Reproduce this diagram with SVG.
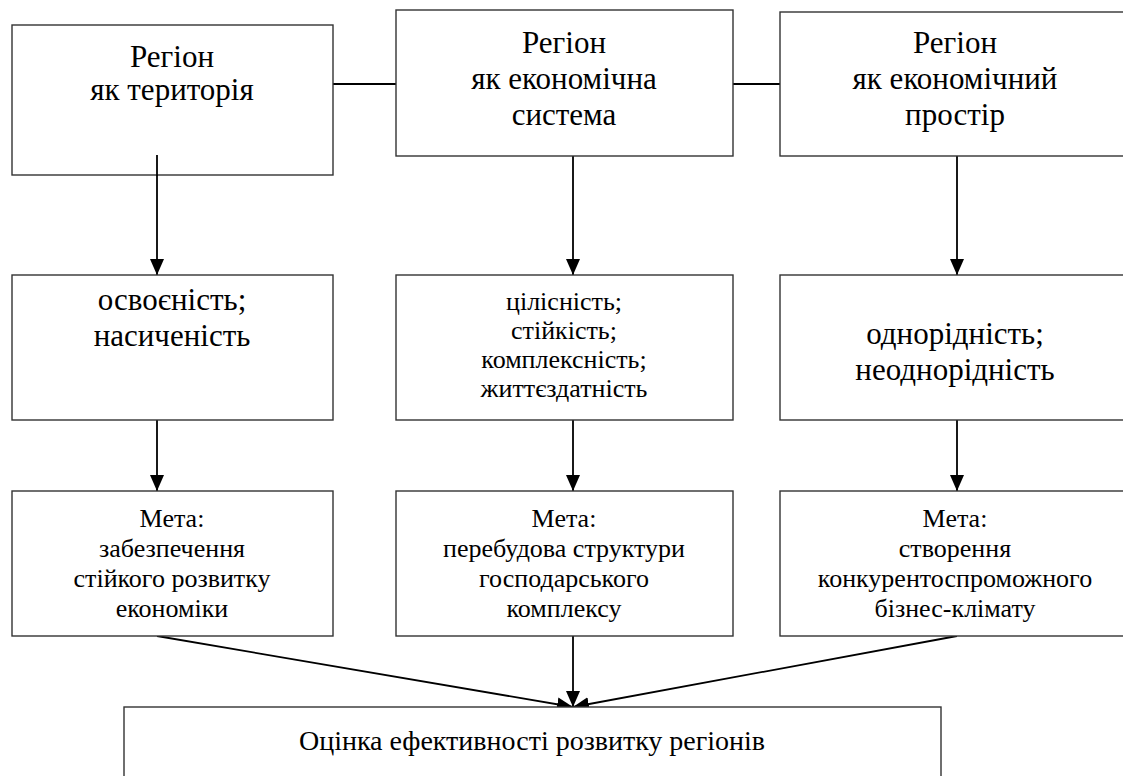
<svg xmlns="http://www.w3.org/2000/svg" width="1123" height="776" viewBox="0 0 1123 776">
<defs>
<style>
.box{fill:#fff;stroke:#333;stroke-width:1.4}
.ln{stroke:#000;stroke-width:1.8;fill:none}
text{font-family:"Liberation Serif","Times New Roman","DejaVu Serif",serif;fill:#000;text-anchor:middle}
.l{font-size:31px}
.m{font-size:26px}
.b{font-size:28px}
</style>
<marker id="ah" markerUnits="userSpaceOnUse" markerWidth="16" markerHeight="16" viewBox="0 0 16 14" refX="16" refY="7" orient="auto">
<path d="M0,0 L16,7 L0,14 z" fill="#000"/>
</marker>
</defs>
<rect width="1123" height="776" fill="#fff"/>

<g id="connectors">
<line class="ln" x1="333" y1="84" x2="396" y2="84"/>
<line class="ln" x1="733" y1="84" x2="780" y2="84"/>
<line class="ln" x1="157" y1="155" x2="157" y2="275" marker-end="url(#ah)"/>
<line class="ln" x1="573" y1="156" x2="573" y2="275" marker-end="url(#ah)"/>
<line class="ln" x1="957" y1="156" x2="957" y2="275" marker-end="url(#ah)"/>
<line class="ln" x1="157" y1="420" x2="157" y2="491" marker-end="url(#ah)"/>
<line class="ln" x1="573" y1="420" x2="573" y2="491" marker-end="url(#ah)"/>
<line class="ln" x1="957" y1="420" x2="957" y2="491" marker-end="url(#ah)"/>
<line class="ln" x1="157" y1="636" x2="573" y2="707" marker-end="url(#ah)"/>
<line class="ln" x1="573" y1="636" x2="573" y2="707" marker-end="url(#ah)"/>
<line class="ln" x1="957" y1="636" x2="573" y2="707" marker-end="url(#ah)"/>
</g>

<g id="n1">
<rect class="box" x="12" y="25" width="321" height="150"/>
<text class="l" x="172" y="67">Регіон</text>
<text class="l" x="172" y="100">як територія</text>
</g>
<line class="ln" x1="157" y1="155" x2="157" y2="176"/>
<g id="n2">
<rect class="box" x="396" y="10" width="337" height="146"/>
<text class="l" x="564" y="53">Регіон</text>
<text class="l" x="564" y="89">як економічна</text>
<text class="l" x="564" y="125">система</text>
</g>
<g id="n3">
<rect class="box" x="780" y="12" width="352" height="144"/>
<text class="l" x="955" y="53">Регіон</text>
<text class="l" x="955" y="89">як економічний</text>
<text class="l" x="955" y="125">простір</text>
</g>

<g id="n4">
<rect class="box" x="12" y="275" width="321" height="145"/>
<text class="l" x="172" y="310">освоєність;</text>
<text class="l" x="172" y="346">насиченість</text>
</g>
<g id="n5">
<rect class="box" x="396" y="275" width="337" height="145"/>
<text class="m" x="564" y="310">цілісність;</text>
<text class="m" x="564" y="339">стійкість;</text>
<text class="m" x="564" y="368">комплексність;</text>
<text class="m" x="564" y="397">життєздатність</text>
</g>
<g id="n6">
<rect class="box" x="780" y="275" width="352" height="145"/>
<text class="l" x="955" y="344">однорідність;</text>
<text class="l" x="955" y="380">неоднорідність</text>
</g>

<g id="n7">
<rect class="box" x="12" y="491" width="321" height="145"/>
<text class="m" x="172" y="527">Мета:</text>
<text class="m" x="172" y="557">забезпечення</text>
<text class="m" x="172" y="587">стійкого розвитку</text>
<text class="m" x="172" y="617">економіки</text>
</g>
<g id="n8">
<rect class="box" x="396" y="491" width="337" height="145"/>
<text class="m" x="564" y="527">Мета:</text>
<text class="m" x="564" y="557">перебудова структури</text>
<text class="m" x="564" y="587">господарського</text>
<text class="m" x="564" y="617">комплексу</text>
</g>
<g id="n9">
<rect class="box" x="780" y="491" width="352" height="145"/>
<text class="m" x="955" y="527">Мета:</text>
<text class="m" x="955" y="557">створення</text>
<text class="m" x="955" y="587">конкурентоспроможного</text>
<text class="m" x="955" y="617">бізнес-клімату</text>
</g>

<g id="n10">
<rect class="box" x="124" y="707" width="817" height="90"/>
<text class="b" x="532" y="750">Оцінка ефективності розвитку регіонів</text>
</g>
</svg>
